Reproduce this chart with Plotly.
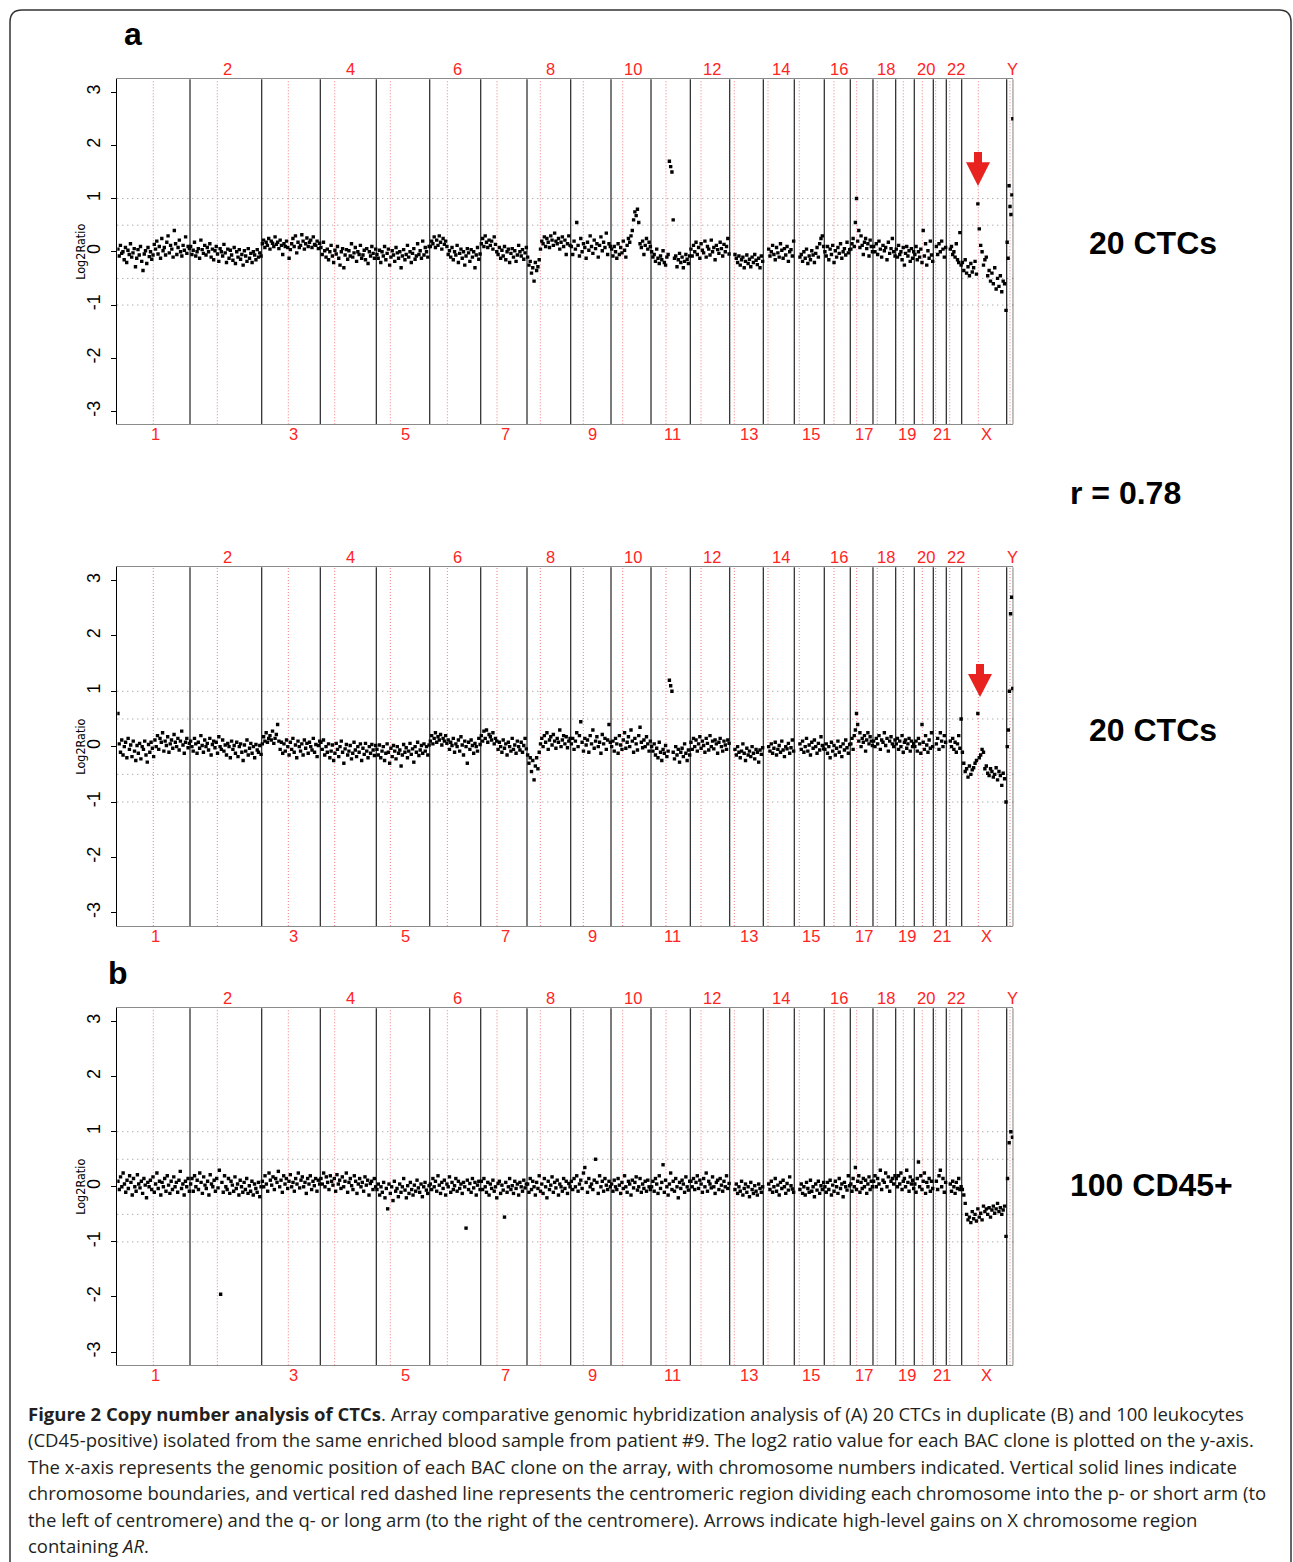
import plotly.graph_objects as go

W, H = 1293, 1562

# ---------------- genome layout (Mb) ----------------
CHROMS = [str(i) for i in range(1, 23)] + ["X", "Y"]
CHR_LEN = [247.5, 244.1, 199.5, 190.7, 181.8, 173.6, 157.6, 148.8, 137.2, 136.2,
           133.8, 134.1, 114.4, 105.5, 102.1, 88.5, 77.3, 77.3, 63.3, 64.7,
           44.3, 52.4, 153.2, 22.5]
CENTRO = [122.6, 93.0, 90.6, 49.0, 47.7, 60.0, 55.5, 45.3, 42.9, 39.8,
          51.0, 36.4, 15.7, 16.0, 17.0, 33.0, 21.8, 14.6, 25.9, 27.2,
          8.2, 11.6, 56.5, 11.2]
ACRO = {"13", "14", "15", "21", "22"}
TOP_LABELS = [c for i, c in enumerate(CHROMS) if i % 2 == 1]
BOTTOM_LABELS = [c for i, c in enumerate(CHROMS) if i % 2 == 0 and c != "Y"]
Y_TICKS = [-3, -2, -1, 0, 1, 2, 3]
Y_TICK_TEXT = ["-3", "-2", "-1", "0", "1", "2", "3"]
REF_LINES = [-1, -0.5, 0.5, 1]

# ---------------- log2 ratios (x100), read per chromosome ----------------
A1 = {
    "1": "5 -8 12 -3 0 -15 8 -20 3 -5 15 -10 -2 6 -28 -12 4 -6 10 -18 -35 -4 2 -22 8 -9 0 -14 -6 14 5 20 -4 10 -12 25 2 8 -6 18 30 -2 12 5 -10 40 15 -5 8 22 0 -8 12 3 28 -3 10 6",
    "2": "10 -5 3 18 -8 0 6 -12 22 4 -3 12 -6 8 0 15 -10 5 -15 2 10 -4 -18 6 0 -8 14 -2 -20 5 -12 3 -6 -16 8 -22 0 -10 4 -14 -5 -25 2 -8 -18 6 -12 -3 -20 0 -6 -15 4 -10 -2 -8",
    "3": "15 22 8 18 12 25 5 20 16 10 28 14 18 6 22 12 -5 15 10 20 8 -12 4 15 25 10 30 -2 18 8 12 32 20 5 15 26 10 18 22 8 28 14 12 20 6 16",
    "4": "8 -5 18 2 -10 5 -15 0 12 -8 -20 3 -4 10 -12 -25 0 6 -30 -6 4 -14 2 -8 15 -10 -2 8 -18 0 -5 12 -12 -6 3 -15 6 -22 0 -8 10 -3 -12 5",
    "5": "-5 -12 3 -20 0 -8 10 -15 -3 5 -25 -10 2 -6 -18 8 -2 -12 0 -30 -8 4 -15 -5 12 -10 0 -20 -3 6 -14 -8 15 -5 2 -12 20 -6 8 0 -10 10",
    "6": "10 20 15 28 8 22 12 30 18 5 25 14 20 10 -5 2 -10 8 -15 0 -6 12 -20 -3 5 -12 0 -25 -8 6 -2 -18 4 -10 0 -30 -6 8 -14 -4",
    "7": "15 25 10 30 18 8 22 12 20 5 28 14 0 -5 8 -12 3 -8 10 -15 0 5 -20 -3 6 -10 2 -18 -6 12 0 -8 4 -14 -2 8",
    "8": "-10 -25 -18 -40 -30 -55 -20 -35 -28 -15 5 20 15 28 10 25 18 8 30 22 12 35 20 15 25 5 18 28 10 22 -5 15 30 12",
    "9": "10 -5 20 5 55 12 -8 25 0 15 8 -12 18 3 30 10 -3 22 6 15 -10 12 28 2 18 8 35 -5 15 10",
    "10": "5 -8 10 0 -12 15 -5 8 -2 20 3 -10 12 25 18 30 40 60 75 68 80 55 15 8 20 -5 12 25 5 18 10",
    "11": "0 -10 -5 -18 5 -12 -22 -8 -15 2 -20 -25 -10 -5 170 160 150 60 -12 -8 -28 -15 -3 -20 -10 -30 -18 -5 -14 -22 -8",
    "12": "5 -8 12 0 18 -5 8 -12 15 3 -2 20 -10 10 5 -6 22 0 8 -15 12 4 -3 18 6 -8 14 0 10 25 -4",
    "13": "-5 -12 -20 -8 -25 -15 -10 -30 -18 -6 -22 -14 -28 -10 -20 -5 -16 -24 -12 -30 -8 -18",
    "14": "5 -8 0 12 -5 -15 8 -2 -10 15 3 -12 6 -6 10 -18 0 4 -8 20",
    "15": "-10 -5 -18 0 -12 5 -22 -8 -15 2 -6 -20 -3 8 -10 15 25 30 10",
    "16": "0 -8 10 -15 5 -5 12 -20 2 -10 8 -3 15 -12 0 6 -6 18 -2 4",
    "17": "5 15 25 10 55 100 20 40 8 30 12 -5 18 25 6 15 -8 22 10 0",
    "18": "10 0 15 -5 20 5 -10 12 2 8 -15 18 -3 6 25 0 -8",
    "19": "5 -10 12 -5 0 -15 8 -25 -3 10 -8 2 -18 6 -12 0",
    "20": "-5 10 -15 0 -10 5 -20 40 -8 15 -25 2 -12 20 -6 -18",
    "21": "10 -5 15 0 20 5 -10 8",
    "22": "5 10 -5 0 -10 15 -15 -20 36 -25",
    "X": "-20 -35 -15 -40 -28 -45 -22 -38 -30 -18 -42 90 43 12 0 -25 -15 -10 -45 -35 -55 -40 -60 -30 -70 -50 -65 -45 -75 -55 -60 -110",
    "Y": "18 -12 124 85 70 107 250",
}

A2 = {
    "1": "60 5 -10 12 -15 0 8 -20 15 -5 3 -18 10 -8 -25 2 -12 6 -22 0 -5 10 -15 -28 4 -10 8 -3 -18 12 0 20 -5 15 8 25 -8 10 2 18 -10 5 12 -3 22 8 0 15 -6 10 28 3 -12 8 15 -2 6",
    "2": "10 0 -8 15 5 -12 8 -3 20 2 -10 12 0 6 -6 15 -15 4 10 -2 8 -12 18 0 -5 12 -8 3 -15 6 0 -20 10 -5 2 -12 8 -18 0 5 -10 -25 3 -8 12 -15 -3 6 -12 0 -20 4 -6 -10 2 -14",
    "3": "5 18 10 25 8 15 20 12 28 6 15 22 40 10 -5 8 -12 5 -8 12 0 -15 8 -5 15 -10 3 -20 10 0 -8 5 -15 12 -3 6 -12 8 0 -6 15 -10 4 -18 2 10",
    "4": "8 -5 12 -15 0 -10 5 -20 -8 3 -25 -12 6 -5 -18 0 10 -10 -30 -4 4 -15 -8 2 -22 -12 8 -6 -18 0 -10 5 -25 -3 -14 6 -8 -20 0 -12 4 -6 -16 2",
    "5": "-5 -15 3 -20 -8 0 -25 -12 5 -10 -30 -3 -18 2 -8 -22 0 -12 -6 -35 -15 4 -10 -2 -20 -8 6 -14 -4 -28 0 -10 8 -16 -6 2 -12 5 -8 0 -15 3",
    "6": "10 20 5 15 25 8 18 12 22 3 15 10 20 6 12 -5 8 2 15 -10 5 0 12 -8 18 3 -15 10 0 -30 8 -5 12 2 -12 6 0 -8 15 4",
    "7": "20 10 28 15 30 8 22 18 12 25 5 15 10 -5 8 0 -10 12 -3 5 -15 8 0 -8 15 -5 3 -12 10 0 -6 8 -10 2 15 -4",
    "8": "-15 -30 -20 -45 -25 -60 -35 -20 -40 -10 5 15 0 20 8 25 -5 12 18 3 22 10 -3 15 8 30 0 12 20 5 18 -2 10 15",
    "9": "5 15 -5 10 25 0 20 45 8 -8 15 3 12 -10 20 5 30 -3 10 18 0 8 -12 22 5 15 -5 12 40 8",
    "10": "0 10 -8 15 5 -12 20 3 -5 12 25 -3 8 18 0 30 10 -10 15 5 -6 20 35 8 -2 12 0 18 5 -8 10",
    "11": "0 -8 5 -15 -3 -20 8 -10 -25 -5 -12 2 -18 -8 120 110 100 -10 -22 0 -15 -5 -28 -10 -3 -18 5 -12 -25 -6 -15",
    "12": "8 -5 15 0 12 -8 5 18 -3 10 2 -10 15 6 -6 20 0 10 -4 12 5 -12 8 15 0 -8 10 3 -5 12 6",
    "13": "-5 -15 0 -10 -20 -8 5 -12 -25 -3 -15 -8 -18 0 -12 -22 -5 -10 -28 -6 -14 -2",
    "14": "0 -8 5 -12 -3 8 -15 -5 2 -10 10 -6 -18 0 -4 6 -12 -2 12 -8",
    "15": "5 -5 10 -10 0 15 -8 3 -15 8 -3 12 0 -12 6 -6 18 2 -4",
    "16": "-5 5 -12 0 -20 8 -8 2 -15 -3 10 -10 0 -18 5 -6 12 -2 -12 4",
    "17": "5 15 -5 20 30 60 40 10 25 0 15 8 20 -8 12 25 5 18 10 2",
    "18": "10 0 15 5 20 -5 12 8 25 2 15 -8 10 18 5 0 12",
    "19": "5 15 -5 10 0 20 -10 8 12 -3 5 15 -8 10 0 6",
    "20": "0 10 -8 15 5 -12 40 8 -5 20 3 -10 12 -3 25 0",
    "21": "5 15 -5 25 10 0 20 8",
    "22": "10 0 15 -5 8 -10 5 20 -3 50",
    "X": "-10 -30 -45 -40 -55 -35 -50 -42 -38 -30 -25 60 -20 -15 -5 -10 -40 -35 -48 -52 -40 -45 -55 -50 -38 -60 -45 -52 -70 -48 -58 -100",
    "Y": "0 30 100 240 270 105",
}

B = {
    "1": "10 -5 18 0 25 5 -10 12 -3 20 8 -15 15 0 -8 22 5 -2 10 -12 15 3 -20 8 0 12 -5 18 -10 5 25 -3 10 -15 8 0 15 -8 20 3 -12 10 -5 18 0 8 -10 12 28 -3 5 -15 10 0 15 -8",
    "2": "5 15 -8 20 0 12 -5 25 8 -12 18 3 -3 10 -15 22 5 0 12 -8 15 -2 30 -195 8 -10 20 0 -5 15 -12 10 3 -8 18 -3 5 -15 12 0 -10 8 -5 15 -12 2 -8 10 -15 5 -3 -10 8 -18 0",
    "3": "10 0 20 5 -8 25 12 3 18 -5 15 8 28 0 12 -10 20 5 15 -3 10 22 0 8 -8 15 5 25 -2 12 18 0 8 -12 15 5 20 -5 10 2 15 -8 12 5",
    "4": "15 5 25 0 18 8 -5 20 10 3 15 -8 22 5 12 -3 18 0 10 25 -10 8 15 2 -5 20 10 -12 5 15 0 8 -8 18 3 12 -15 6 10 -5 15 0",
    "5": "-5 5 -15 0 -10 8 -20 -3 -40 5 -12 0 -25 10 -8 -3 -18 5 -10 0 15 -6 -20 2 -12 8 -5 -15 3 -8 12 -2 -10 5 -18 0 8 -6 -12 2",
    "6": "5 -5 15 0 10 -8 20 3 -12 8 -3 12 -15 5 0 18 -10 8 -5 2 15 -8 10 -3 5 -12 8 0 -75 12 -5 6 -10 15 -2 8 -15 3 10 -5",
    "7": "10 -5 15 0 -10 8 -15 5 -3 12 -8 0 -20 6 10 -12 3 -6 -55 8 -10 0 15 -5 2 -12 10 -3 5 -15 8 0 -8 12 -2 5",
    "8": "5 -10 15 -5 10 0 -15 8 -3 20 -8 5 -12 15 0 -20 10 -5 3 18 -10 8 -2 12 -15 5 0 -8 15 -3 10 -12 6 0",
    "9": "10 -5 15 0 20 -8 5 12 -3 25 35 8 -10 15 0 5 -5 12 50 8 -12 20 0 10 -8 15 3 -5 10 0",
    "10": "5 -8 12 0 -5 15 3 -12 8 -3 20 0 -10 10 5 -15 12 -2 8 18 -6 0 15 -10 5 -3 10 -8 12 0 -5",
    "11": "0 10 -8 15 5 -12 20 -3 8 40 -10 12 0 -15 5 25 -5 10 -8 15 0 -20 8 -3 12 5 -10 18 0 -6 10",
    "12": "10 0 15 -5 8 20 -3 12 5 -10 15 0 25 -8 10 5 -2 18 0 -12 8 12 -5 15 3 -8 10 0 20 -3 6",
    "13": "-5 5 -12 0 -8 10 -15 -3 5 -10 0 -18 8 -5 -12 2 -8 -15 5 -3 -10 0",
    "14": "5 -5 10 -10 0 15 -8 3 -15 8 -3 12 0 -12 6 -6 18 2 -4 -10",
    "15": "-5 5 -12 0 -15 8 -3 -10 12 -8 0 -18 5 -6 10 -12 2 -5 8",
    "16": "0 -10 8 -5 12 -15 3 -8 10 0 -12 15 -3 5 -18 8 0 -6 20 2",
    "17": "5 -8 15 0 35 -5 10 20 -10 8 -3 15 0 12 -12 5 18 -5 10 0",
    "18": "10 20 0 15 5 30 -5 12 8 25 0 18 -8 10 15 5 20",
    "19": "15 0 20 5 25 -5 10 15 0 30 8 -8 18 5 12 -3",
    "20": "5 -10 15 45 0 20 -5 10 25 -12 8 0 15 -8 10 -3",
    "21": "10 -5 20 30 0 15 -10 8",
    "22": "5 -8 10 0 -12 8 -3 15 -5 0",
    "X": "-5 -15 -30 -50 -60 -55 -65 -45 -58 -50 -62 -40 -55 -48 -60 -35 -45 -40 -50 -38 -55 -42 -35 -48 -40 -30 -45 -38 -50 -42 -35 -90",
    "Y": "15 80 100 90",
}

PANEL_DATA = [A1, A2, B]
# plot-area boxes in pixels (x0, x1, ytop, ybottom)
PANEL_BOX = [(117.3, 1013.3, 79.3, 424.3),
             (117.3, 1013.3, 567.3, 926.0),
             (117.3, 1013.3, 1008.3, 1365.3)]
RIGHT_LABELS = [("20 CTCs", 1153, 243), ("20 CTCs", 1153, 730),
                ("r = 0.78", 1125, 493), ("100 CD45+", 1151, 1185)]

CAPTION = [
    "<b>Figure 2 Copy number analysis of CTCs</b>. Array comparative genomic hybridization analysis of (A) 20 CTCs in duplicate (B) and 100 leukocytes",
    "(CD45-positive) isolated from the same enriched blood sample from patient #9. The log2 ratio value for each BAC clone is plotted on the y-axis.",
    "The x-axis represents the genomic position of each BAC clone on the array, with chromosome numbers indicated. Vertical solid lines indicate",
    "chromosome boundaries, and vertical red dashed line represents the centromeric region dividing each chromosome into the p- or short arm (to",
    "the left of centromere) and the q- or long arm (to the right of the centromere). Arrows indicate high-level gains on X chromosome region",
    "containing <i>AR</i>.",
]

# ---------------- helpers ----------------
def px(x):
    return x / W


def py(y):
    return 1 - y / H


starts = []
acc = 0.0
for L in CHR_LEN:
    starts.append(acc)
    acc += L
TOTAL = acc
mids = {c: s + L / 2 for c, s, L in zip(CHROMS, starts, CHR_LEN)}


def positions(data):
    xs, ys = [], []
    for c, s, L, cen in zip(CHROMS, starts, CHR_LEN, CENTRO):
        vals = [int(v) / 100 for v in data[c].split()]
        f = cen if c in ACRO else 0.0
        n = len(vals)
        for i, v in enumerate(vals):
            xs.append(s + f + (i + 0.5) / n * (L - f))
            ys.append(v)
    return xs, ys


fig = go.Figure()
shapes = []
annotations = []
LAB_FONT = dict(family="Liberation Sans, Arial", size=16.5, color="#ff2424")
NARROW = "Liberation Sans Narrow, Arial Narrow, DejaVu Sans Condensed, Liberation Sans"

for k, (data, box) in enumerate(zip(PANEL_DATA, PANEL_BOX), start=1):
    x0, x1, yt, yb = box
    xa = "x" if k == 1 else f"x{k}"
    ya = "y" if k == 1 else f"y{k}"
    xs, ys = positions(data)
    fig.add_trace(go.Scatter(x=xs, y=ys, mode="markers", xaxis=xa, yaxis=ya,
                             marker=dict(size=3.4, color="black", symbol="square",
                                         line=dict(width=0)),
                             showlegend=False, hoverinfo="skip"))
    fig.layout[f"xaxis{k if k > 1 else ''}"] = dict(
        domain=[px(x0), px(x1)], range=[0, TOTAL], showgrid=False, zeroline=False,
        showticklabels=False, ticks="", showline=True, mirror=True,
        linecolor="#8a8a8a", linewidth=1.2, anchor=ya, fixedrange=True)
    fig.layout[f"yaxis{k if k > 1 else ''}"] = dict(
        domain=[py(yb), py(yt)], range=[-3.24, 3.24], showgrid=False, zeroline=False,
        tickvals=Y_TICKS, ticktext=Y_TICK_TEXT, ticks="outside", ticklen=5,
        tickcolor="black", tickwidth=1, tickangle=-90, ticklabelstandoff=4,
        tickfont=dict(family="Liberation Sans, Arial", size=18, color="black"),
        showline=True, linecolor="black", linewidth=1.2, anchor=xa, fixedrange=True)
    # reference dotted lines
    for r in REF_LINES:
        shapes.append(dict(type="line", xref=f"{xa} domain", yref=ya, x0=0, x1=1, y0=r, y1=r,
                           line=dict(color="#8c8c8c", width=1, dash="1px,4px"), layer="below"))
    # centromeres
    for s, cen in zip(starts, CENTRO):
        shapes.append(dict(type="line", xref=xa, yref=f"{ya} domain", x0=s + cen, x1=s + cen,
                           y0=0, y1=1, line=dict(color="#f27c7c", width=1, dash="1px,2px"),
                           layer="below"))
    # chromosome boundaries
    for s in starts[1:] + [TOTAL]:
        shapes.append(dict(type="line", xref=xa, yref=f"{ya} domain", x0=s, x1=s,
                           y0=0, y1=1, line=dict(color="#222222", width=1.2), layer="below"))
    for c in TOP_LABELS:
        annotations.append(dict(text=c, x=mids[c], y=1, xref=xa, yref=f"{ya} domain",
                                xanchor="center", yanchor="middle", yshift=10, xshift=2,
                                showarrow=False, font=LAB_FONT))
    for c in BOTTOM_LABELS:
        annotations.append(dict(text=c, x=mids[c], y=0, xref=xa, yref=f"{ya} domain",
                                xanchor="center", yanchor="middle", yshift=-10, xshift=2,
                                showarrow=False, font=LAB_FONT))
    annotations.append(dict(text="Log2Ratio", x=px(81), y=0, xref="paper", yref=ya,
                            textangle=-90, showarrow=False, xanchor="center", yanchor="middle",
                            font=dict(family=NARROW, size=12.5, color="black")))

# red arrows (pixel geometry)
ARROWS = [(978, 152, 186), (980, 664, 697)]
for ax, ytop, ytip in ARROWS:
    ymid = ytop + (ytip - ytop) * 0.3
    pts = [(ax - 4, ytop), (ax + 4, ytop), (ax + 4, ymid), (ax + 12, ymid), (ax, ytip),
           (ax - 12, ymid), (ax - 4, ymid)]
    path = "M " + " L ".join(f"{px(a)},{py(b)}" for a, b in pts) + " Z"
    shapes.append(dict(type="path", xref="paper", yref="paper", path=path,
                       fillcolor="#e8231f", line=dict(width=0)))

# outer frame
frame = (f"M {px(10)},{py(1562)} L {px(10)},{py(22)} Q {px(10)},{py(10)} {px(22)},{py(10)} "
         f"L {px(1279)},{py(10)} Q {px(1291)},{py(10)} {px(1291)},{py(22)} L {px(1291)},{py(1562)}")
shapes.append(dict(type="path", xref="paper", yref="paper", path=frame,
                   line=dict(color="#333333", width=1.5)))

BOLD = dict(family="Liberation Sans, Arial", size=32, color="black")
annotations.append(dict(text="<b>a</b>", x=px(133), y=py(34), xref="paper", yref="paper",
                        xanchor="center", yanchor="middle", showarrow=False, font=BOLD))
annotations.append(dict(text="<b>b</b>", x=px(118), y=py(973), xref="paper", yref="paper",
                        xanchor="center", yanchor="middle", showarrow=False, font=BOLD))
for t, x, y in RIGHT_LABELS:
    annotations.append(dict(text=f"<b>{t}</b>", x=px(x), y=py(y), xref="paper", yref="paper",
                            xanchor="center", yanchor="middle", showarrow=False, font=BOLD))

CAP_Y = [1413, 1439.5, 1466, 1492.5, 1519, 1545.5]
for t, y in zip(CAPTION, CAP_Y):
    annotations.append(dict(text=t, x=px(26), y=py(y), xref="paper", yref="paper",
                            xanchor="left", yanchor="middle", showarrow=False,
                            font=dict(family="Open Sans", size=18.5, color="#231f20")))

fig.update_layout(width=W, height=H, margin=dict(l=0, r=0, t=0, b=0),
                  paper_bgcolor="white", plot_bgcolor="white",
                  shapes=shapes, annotations=annotations, showlegend=False)

fig.write_html("out.html", config={"displayModeBar": False},
               post_script="document.body.style.margin='0';")
